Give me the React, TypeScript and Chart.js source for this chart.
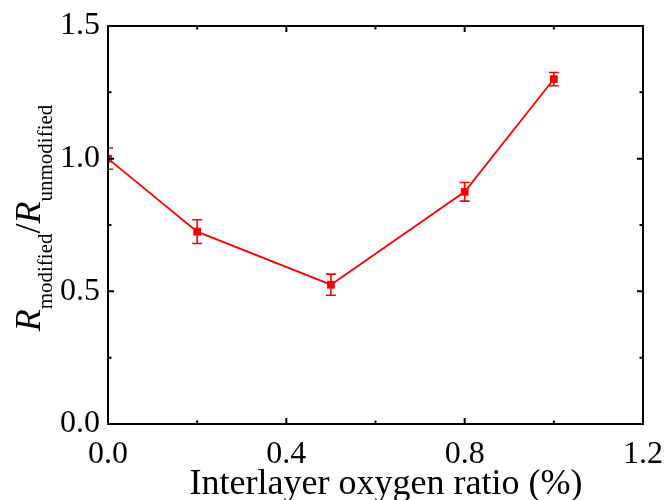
import React, { useEffect, useRef } from "react";
import { Chart, registerables } from "chart.js";

Chart.register(...registerables);

const oxygenRatio = [0, 0.2, 0.5, 0.8, 1.0];
const resistanceRatio = [1.0, 0.725, 0.525, 0.875, 1.3];
const resistanceError = [0.04, 0.045, 0.04, 0.035, 0.025];
const xTickValues = [0, 0.4, 0.8, 1.2];
const xMinorValues = [0.2, 0.6, 1.0];
const yTickValues = [0, 0.5, 1.0, 1.5];
const yMinorValues = [0.25, 0.75, 1.25];

const SERIF = "'Liberation Serif', 'DejaVu Serif', serif";
const RED = "#ff0000";

const decorPlugin = {
  id: "decor",
  afterDatasetsDraw(chart: any) {
    const { ctx, chartArea } = chart;
    const xs = chart.scales.x;
    const ys = chart.scales.y;
    ctx.save();
    ctx.beginPath();
    ctx.rect(chartArea.left, chartArea.top, chartArea.right - chartArea.left, chartArea.bottom - chartArea.top);
    ctx.clip();
    ctx.strokeStyle = RED;
    ctx.lineWidth = 1.6;
    oxygenRatio.forEach((xv, i) => {
      const px = xs.getPixelForValue(xv);
      const top = ys.getPixelForValue(resistanceRatio[i] + resistanceError[i]);
      const bot = ys.getPixelForValue(resistanceRatio[i] - resistanceError[i]);
      const cap = 5;
      ctx.beginPath();
      ctx.moveTo(px, top);
      ctx.lineTo(px, bot);
      ctx.moveTo(px - cap, top);
      ctx.lineTo(px + cap, top);
      ctx.moveTo(px - cap, bot);
      ctx.lineTo(px + cap, bot);
      ctx.stroke();
    });
    ctx.restore();
  },
  afterDraw(chart: any) {
    const { ctx, chartArea } = chart;
    const xs = chart.scales.x;
    const ys = chart.scales.y;
    const { left, right, top, bottom } = chartArea;
    ctx.save();
    ctx.strokeStyle = "#000";
    ctx.lineWidth = 2;
    ctx.strokeRect(left, top, right - left, bottom - top);
    const major = 6;
    const minor = 3.5;
    ctx.beginPath();
    const xt = (v: number, len: number) => {
      const p = xs.getPixelForValue(v);
      ctx.moveTo(p, bottom);
      ctx.lineTo(p, bottom - len);
      ctx.moveTo(p, top);
      ctx.lineTo(p, top + len);
    };
    const yt = (v: number, len: number) => {
      const p = ys.getPixelForValue(v);
      ctx.moveTo(left, p);
      ctx.lineTo(left + len, p);
      ctx.moveTo(right, p);
      ctx.lineTo(right - len, p);
    };
    xTickValues.forEach((v) => xt(v, major));
    xMinorValues.forEach((v) => xt(v, minor));
    yTickValues.forEach((v) => yt(v, major));
    yMinorValues.forEach((v) => yt(v, minor));
    ctx.stroke();

    // x title
    ctx.fillStyle = "#000";
    ctx.font = `36px ${SERIF}`;
    ctx.textAlign = "center";
    ctx.textBaseline = "alphabetic";
    ctx.fillText("Interlayer oxygen ratio (%)", 386, 494);

    // y title
    const mainFont = `italic 36px ${SERIF}`;
    const subFont = `21px ${SERIF}`;
    const slashFont = `36px ${SERIF}`;
    const parts = [
      { t: "R", f: mainFont, dy: 0 },
      { t: "modified", f: subFont, dy: 12 },
      { t: "/", f: slashFont, dy: 0 },
      { t: "R", f: mainFont, dy: 0 },
      { t: "unmodified", f: subFont, dy: 12 },
    ];
    let total = 0;
    const widths = parts.map((p) => {
      ctx.font = p.f;
      const w = ctx.measureText(p.t).width;
      total += w;
      return w;
    });
    ctx.translate(40, 218);
    ctx.rotate(-Math.PI / 2);
    ctx.textAlign = "left";
    let x = -total / 2;
    parts.forEach((p, i) => {
      ctx.font = p.f;
      ctx.fillText(p.t, x, p.dy);
      x += widths[i];
    });
    ctx.restore();
  },
};

export default function App() {
  const canvasRef = useRef<HTMLCanvasElement | null>(null);

  useEffect(() => {
    if (!canvasRef.current) return;
    const chart = new Chart(canvasRef.current, {
      type: "line",
      data: {
        datasets: [
          {
            data: oxygenRatio.map((x, i) => ({ x, y: resistanceRatio[i] })),
            borderColor: RED,
            backgroundColor: RED,
            borderWidth: 1.8,
            pointStyle: "rect",
            pointRadius: 5.5,
            pointBorderWidth: 0,
            pointBackgroundColor: RED,
            tension: 0,
          },
        ],
      },
      options: {
        animation: false,
        responsive: false,
        maintainAspectRatio: false,
        layout: { padding: { top: 26, right: 21, left: 0, bottom: 0 } },
        plugins: { legend: { display: false }, tooltip: { enabled: false } },
        scales: {
          x: {
            type: "linear",
            min: 0,
            max: 1.2,
            grid: { display: false, drawTicks: false },
            border: { display: false },
            afterBuildTicks: (s: any) => {
              s.ticks = xTickValues.map((v) => ({ value: v }));
            },
            afterFit: (s: any) => {
              s.height = 76;
              s.paddingLeft = 0;
              s.paddingRight = 0;
            },
            ticks: {
              autoSkip: false,
              maxRotation: 0,
              padding: 11,
              color: "#000",
              font: { family: SERIF, size: 32 },
              callback: (v: any) => Number(v).toFixed(1),
            },
          },
          y: {
            type: "linear",
            min: 0,
            max: 1.5,
            grid: { display: false, drawTicks: false },
            border: { display: false },
            afterBuildTicks: (s: any) => {
              s.ticks = yTickValues.map((v) => ({ value: v }));
            },
            afterFit: (s: any) => {
              s.width = 108;
              s.paddingTop = 0;
              s.paddingBottom = 0;
            },
            ticks: {
              autoSkip: false,
              padding: 8,
              color: "#000",
              font: { family: SERIF, size: 32 },
              callback: (v: any) => Number(v).toFixed(1),
            },
          },
        },
      },
      plugins: [decorPlugin],
    } as any);
    return () => chart.destroy();
  }, []);

  return (
    <div style={{ position: "absolute", left: 0, top: 0, width: 664, height: 500, background: "#fff" }}>
      <canvas ref={canvasRef} width={664} height={500} />
    </div>
  );
}
